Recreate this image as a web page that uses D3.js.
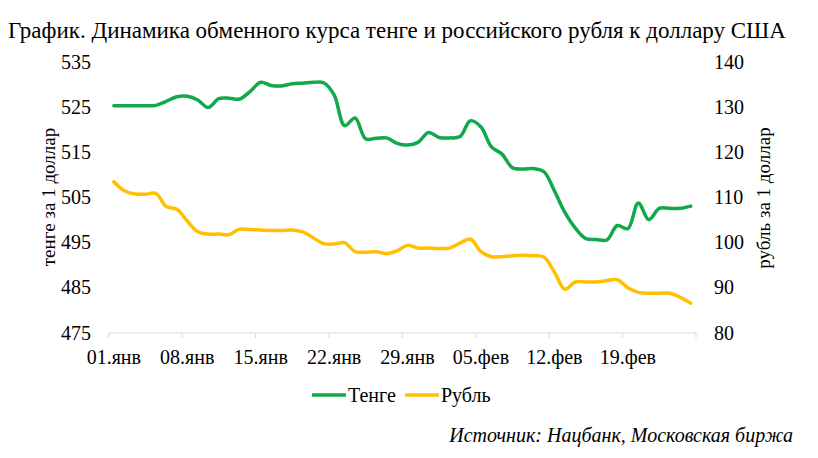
<!DOCTYPE html>
<html>
<head>
<meta charset="utf-8">
<script src="https://cdn.jsdelivr.net/npm/d3@7"></script>
<style>
  body { margin: 0; background: #fff; }
</style>
</head>
<body>
<script>
const width = 818;
const height = 458;

// daily values, 01.01 .. 25.02
const tenge = [
  525.3, 525.3, 525.3, 525.3, 525.4, 526.3, 527.3, 527.4, 526.6, 524.9,
  526.9, 527.0, 526.8, 528.5, 530.5, 529.8, 529.7, 530.2, 530.3, 530.5,
  530.4, 527.7, 520.9, 522.6, 518.0, 518.1, 518.2, 517.0, 516.6, 517.2,
  519.4, 518.3, 518.2, 518.5, 522.0, 520.6, 516.2, 514.6, 511.6, 511.3,
  511.4, 510.7, 506.5, 501.7, 498.2, 495.9, 495.7, 495.6, 498.8, 498.1,
  503.8, 500.1, 502.6, 502.6, 502.6, 503.1
];
const rubl = [
  113.5, 111.5, 110.8, 110.7, 110.9, 108.0, 107.4, 104.8, 102.4, 101.9,
  101.9, 101.8, 103.0, 102.9, 102.8, 102.7, 102.7, 102.8, 102.4, 101.1,
  99.8, 99.7, 100.0, 98.0, 97.9, 98.0, 97.6, 98.2, 99.4, 98.8,
  98.8, 98.7, 98.8, 99.9, 100.8, 98.0, 96.9, 96.9, 97.1, 97.2,
  97.1, 96.8, 93.5, 89.7, 91.3, 91.3, 91.3, 91.6, 91.8, 90.0,
  89.0, 88.8, 88.8, 88.8, 87.9, 86.6
];
const startDate = new Date(2025, 0, 1);
const endDate = new Date(2025, 1, 26);
const leftTicks = [475, 485, 495, 505, 515, 525, 535];
const rightTicks = [80, 90, 100, 110, 120, 130, 140];
const monthNames = ["янв", "фев"];
const seriesNames = ["Тенге", "Рубль"];
const colors = ["#12a84c", "#ffc000"];

const title = "График. Динамика обменного курса тенге и российского рубля к доллару США";
const leftTitle = "тенге за 1 доллар";
const rightTitle = "рубль за 1 доллар";
const source = "Источник: Нацбанк, Московская биржа";

const font = "'Liberation Serif', 'Times New Roman', 'DejaVu Serif', serif";

const svg = d3.select("body").append("svg")
  .attr("width", width)
  .attr("height", height)
  .attr("font-family", font);

const x = d3.scaleTime().domain([startDate, endDate]).range([108.6, 696]);
const yL = d3.scaleLinear().domain([475, 535]).range([333, 62]);
const yR = d3.scaleLinear().domain([80, 140]).range([333, 62]);

const days = tenge.map((d, i) => d3.timeHour.offset(d3.timeDay.offset(startDate, i), 12));

// title
svg.append("text")
  .attr("x", 8).attr("y", 38)
  .style("font-size", "23px")
  .text(title);

// x axis
const weekTicks = d3.timeDay.range(startDate, d3.timeDay.offset(endDate, 1), 7);
svg.append("line")
  .attr("x1", x(startDate)).attr("x2", x(endDate))
  .attr("y1", 333).attr("y2", 333)
  .attr("stroke", "#d9d9d9").attr("stroke-width", 1);
svg.selectAll(".xtick").data(weekTicks).enter().append("line")
  .attr("x1", d => x(d)).attr("x2", d => x(d))
  .attr("y1", 333).attr("y2", 338)
  .attr("stroke", "#d9d9d9");
const fmt = d => d3.timeFormat("%d")(d) + "." + monthNames[d.getMonth()];
svg.selectAll(".xlab").data(weekTicks.slice(0, -1)).enter().append("text")
  .attr("x", d => x(d3.timeHour.offset(d, 12)))
  .attr("y", 364)
  .attr("text-anchor", "middle")
  .style("font-size", "20px")
  .text(fmt);

// y axes labels
svg.selectAll(".ylab").data(leftTicks).enter().append("text")
  .attr("x", 91).attr("y", d => yL(d) + 6.5)
  .attr("text-anchor", "end")
  .style("font-size", "20px")
  .text(d => d);
svg.selectAll(".rlab").data(rightTicks).enter().append("text")
  .attr("x", 714).attr("y", d => yR(d) + 6.5)
  .style("font-size", "20px")
  .text(d => d);

svg.append("text")
  .attr("transform", "translate(55,197) rotate(-90)")
  .attr("text-anchor", "middle")
  .style("font-size", "19px")
  .text(leftTitle);
svg.append("text")
  .attr("transform", "translate(770,198) rotate(-90)")
  .attr("text-anchor", "middle")
  .style("font-size", "19px")
  .text(rightTitle);

// lines
const lineL = d3.line().x((d, i) => x(days[i])).y(d => yL(d)).curve(d3.curveCatmullRom.alpha(0.5));
const lineR = d3.line().x((d, i) => x(days[i])).y(d => yR(d)).curve(d3.curveCatmullRom.alpha(0.5));

svg.append("path").datum(rubl)
  .attr("d", lineR)
  .attr("fill", "none").attr("stroke", colors[1])
  .attr("stroke-width", 3.5).attr("stroke-linejoin", "round").attr("stroke-linecap", "round");
svg.append("path").datum(tenge)
  .attr("d", lineL)
  .attr("fill", "none").attr("stroke", colors[0])
  .attr("stroke-width", 3.5).attr("stroke-linejoin", "round").attr("stroke-linecap", "round");

// legend
const legendX = [312, 405];
const legend = svg.selectAll(".leg").data(seriesNames).enter().append("g")
  .attr("transform", (d, i) => `translate(${legendX[i]},395)`);
legend.append("line")
  .attr("x1", 0).attr("x2", 34).attr("y1", 0).attr("y2", 0)
  .attr("stroke", (d, i) => colors[i]).attr("stroke-width", 3.5);
legend.append("text")
  .attr("x", 36).attr("y", 6.5)
  .style("font-size", "20px")
  .text(d => d);

// source
svg.append("text")
  .attr("x", 793).attr("y", 442)
  .attr("text-anchor", "end")
  .style("font-size", "20px")
  .style("font-style", "italic")
  .text(source);
</script>
</body>
</html>
